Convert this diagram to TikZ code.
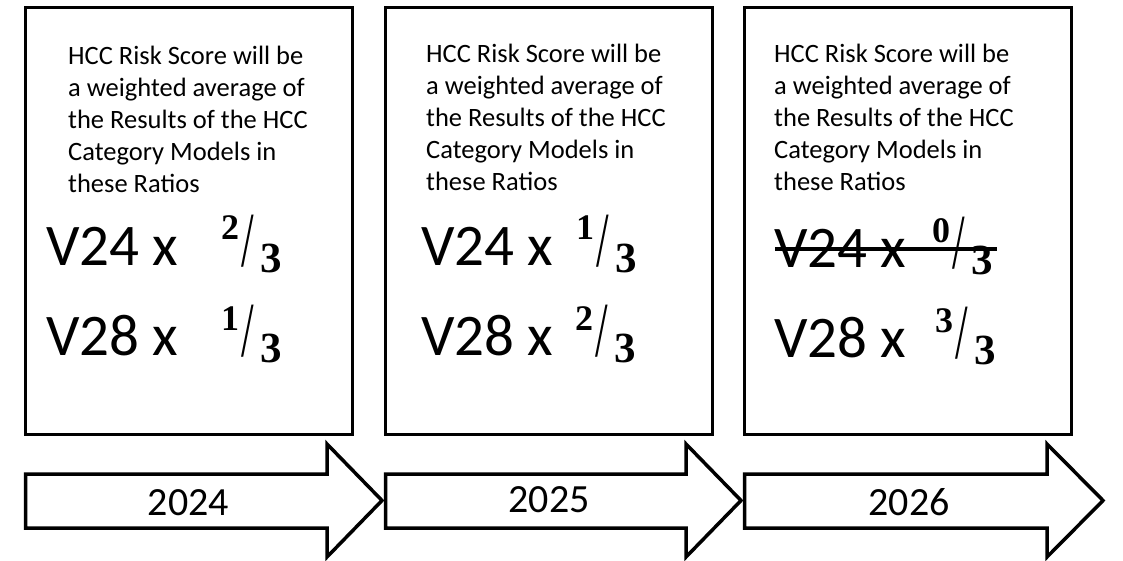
\documentclass[tikz,border=0pt]{standalone}
\usepackage{fontspec}
\setmainfont{Carlito}
\newfontfamily\fracfont{Liberation Serif}
\usepackage{graphicx}
\newcommand\skfrac[5]{%
  \node[numr] (#1n) at (#2-1,#3-25) {#4};
  \node[slsh] (#1s) at (#2+19,#3+1) {\scalebox{0.58}[1]{/}};
  \node[denr] (#1d) at (#2+38,#3+7) {#5};}
\begin{document}
\begin{tikzpicture}[x=1pt,y=-1pt,
  frame/.style={draw=black,line width=3.2pt,fill=white},
  blockarrow/.style={draw=black,line width=3.5pt,fill=white,line join=miter},
  body/.style={font=\fontsize{26.5}{31}\selectfont,anchor=base west,inner sep=0pt},
  big/.style={font=\fontsize{59}{62}\selectfont,anchor=base west,inner sep=0pt},
  year/.style={font=\fontsize{40}{44}\selectfont,anchor=base,inner sep=0pt},
  numr/.style={font=\fracfont\bfseries\fontsize{36}{40}\selectfont,anchor=base west,inner sep=0pt},
  denr/.style={font=\fracfont\bfseries\fontsize{43}{46}\selectfont,anchor=base west,inner sep=0pt},
  slsh/.style={font=\fracfont\fontsize{78}{82}\selectfont,anchor=base west,inner sep=0pt},
  strike/.style={line width=3.5pt}
]
\useasboundingbox (0,0) rectangle (1123,561);
\fill[white] (0,0) rectangle (1123,561);

% boxes
\draw[frame] (25.6,7.6) rectangle (352.4,434.4);
\draw[frame] (385.6,7.6) rectangle (712.4,434.4);
\draw[frame] (744.6,7.6) rectangle (1071.4,434.4);

% arrows
\draw[blockarrow] (25.5,474) -- (327,474) -- (327,444) -- (382,500.5) -- (327,557) -- (327,528) -- (25.5,528) -- cycle;
\draw[blockarrow] (385.5,474) -- (686,474) -- (686,444) -- (741,500.5) -- (686,557) -- (686,528) -- (385.5,528) -- cycle;
\draw[blockarrow] (744.5,474) -- (1047,474) -- (1047,444) -- (1103,500.5) -- (1047,557) -- (1047,528) -- (744.5,528) -- cycle;

\node[year] (y1) at (188.5,515) {2024};
\node[year] (y2) at (549,512) {2025};
\node[year] (y3) at (909,515) {2026};

% body texts
\foreach \t [count=\i] in {HCC Risk Score will be,a weighted average of,the Results of the HCC,Category Models in,these Ratios}{
  \node[body] (a\i) at (68,65+32*\i-32) {\t};
  \node[body] (b\i) at (426,62.5+32*\i-32) {\t};
  \node[body] (c\i) at (774,62.5+32*\i-32) {\t};
}

% big rows
\node[big] (va1) at (46,265) {V24 x};
\node[big] (va2) at (46,355) {V28 x};
\node[big] (vb1) at (421,265) {V24 x};
\node[big] (vb2) at (421,355) {V28 x};
\node[big] (vc1) at (774,267) {V24 x};
\node[big] (vc2) at (774,357) {V28 x};

\skfrac{fa1}{222}{265}{2}{3}
\skfrac{fa2}{222}{355}{1}{3}
\skfrac{fb1}{577}{265}{1}{3}
\skfrac{fb2}{576}{355}{2}{3}
\skfrac{fc1}{933}{267}{0}{3}
\skfrac{fc2}{936}{357}{3}{3}

\coordinate (st1) at (775,249);
\coordinate (st2) at (997,249);
\draw[strike] (st1) -- (st2);
\end{tikzpicture}
\end{document}
